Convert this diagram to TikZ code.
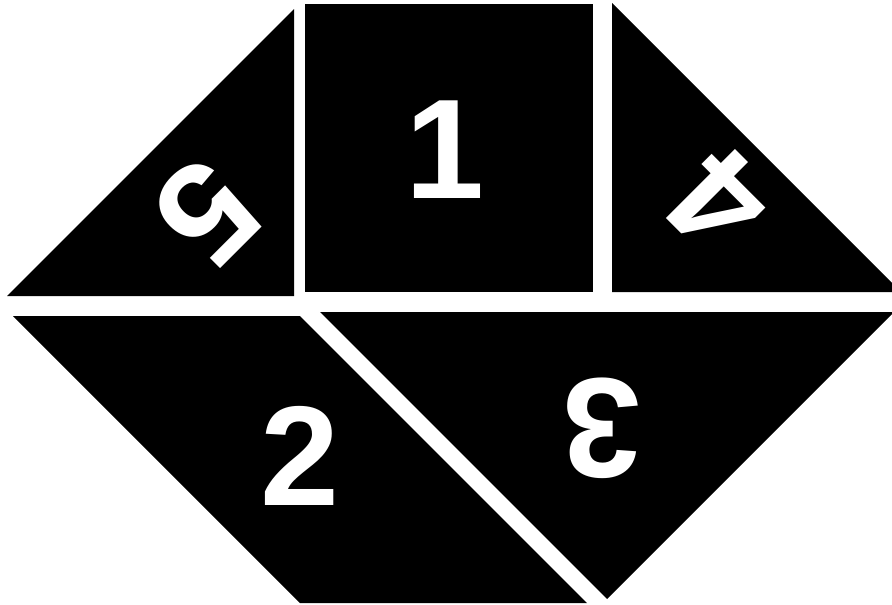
\documentclass[tikz,border=0pt]{standalone}
\usepackage{fontspec}
\setmainfont{Liberation Sans}
\usetikzlibrary{positioning}
\tikzset{
    piece/.style={
        fill=black,
        draw=none
    },
    digit/.style={
        text=white,
        font=\fontsize{142}{142}\selectfont\bfseries,
        inner sep=0pt
    }
}
\begin{document}
\begin{tikzpicture}[x=1pt, y=-1pt]
        \useasboundingbox (0,0) rectangle (892,605);
        \clip (0,0) rectangle (892,605);

        % Top row: triangle, square, triangle
        \fill[piece] (7,296) -- (294,296) -- (294,9) -- cycle;
        \fill[piece] (305,4) rectangle (593,292);
        \fill[piece] (612,3) -- (612,292) -- (901,292) -- cycle;

        % Bottom row: parallelogram and big triangle
        \fill[piece] (13,316) -- (300,316) -- (587,603) -- (300,603) -- cycle;
        \fill[piece] (320,312) -- (894,312) -- (607,599) -- cycle;

        % Numbers
        \node[digit] (one) at (445,150) {1};
        \node[digit] (two) at (300,456) {2};
        \node[digit, rotate=180] (three) at (602,428) {3};
        \node[digit, rotate=135] (four) at (719,202) {4};
        \node[digit, rotate=-135] (five) at (207,212) {5};
    \end{tikzpicture}
\end{document}
